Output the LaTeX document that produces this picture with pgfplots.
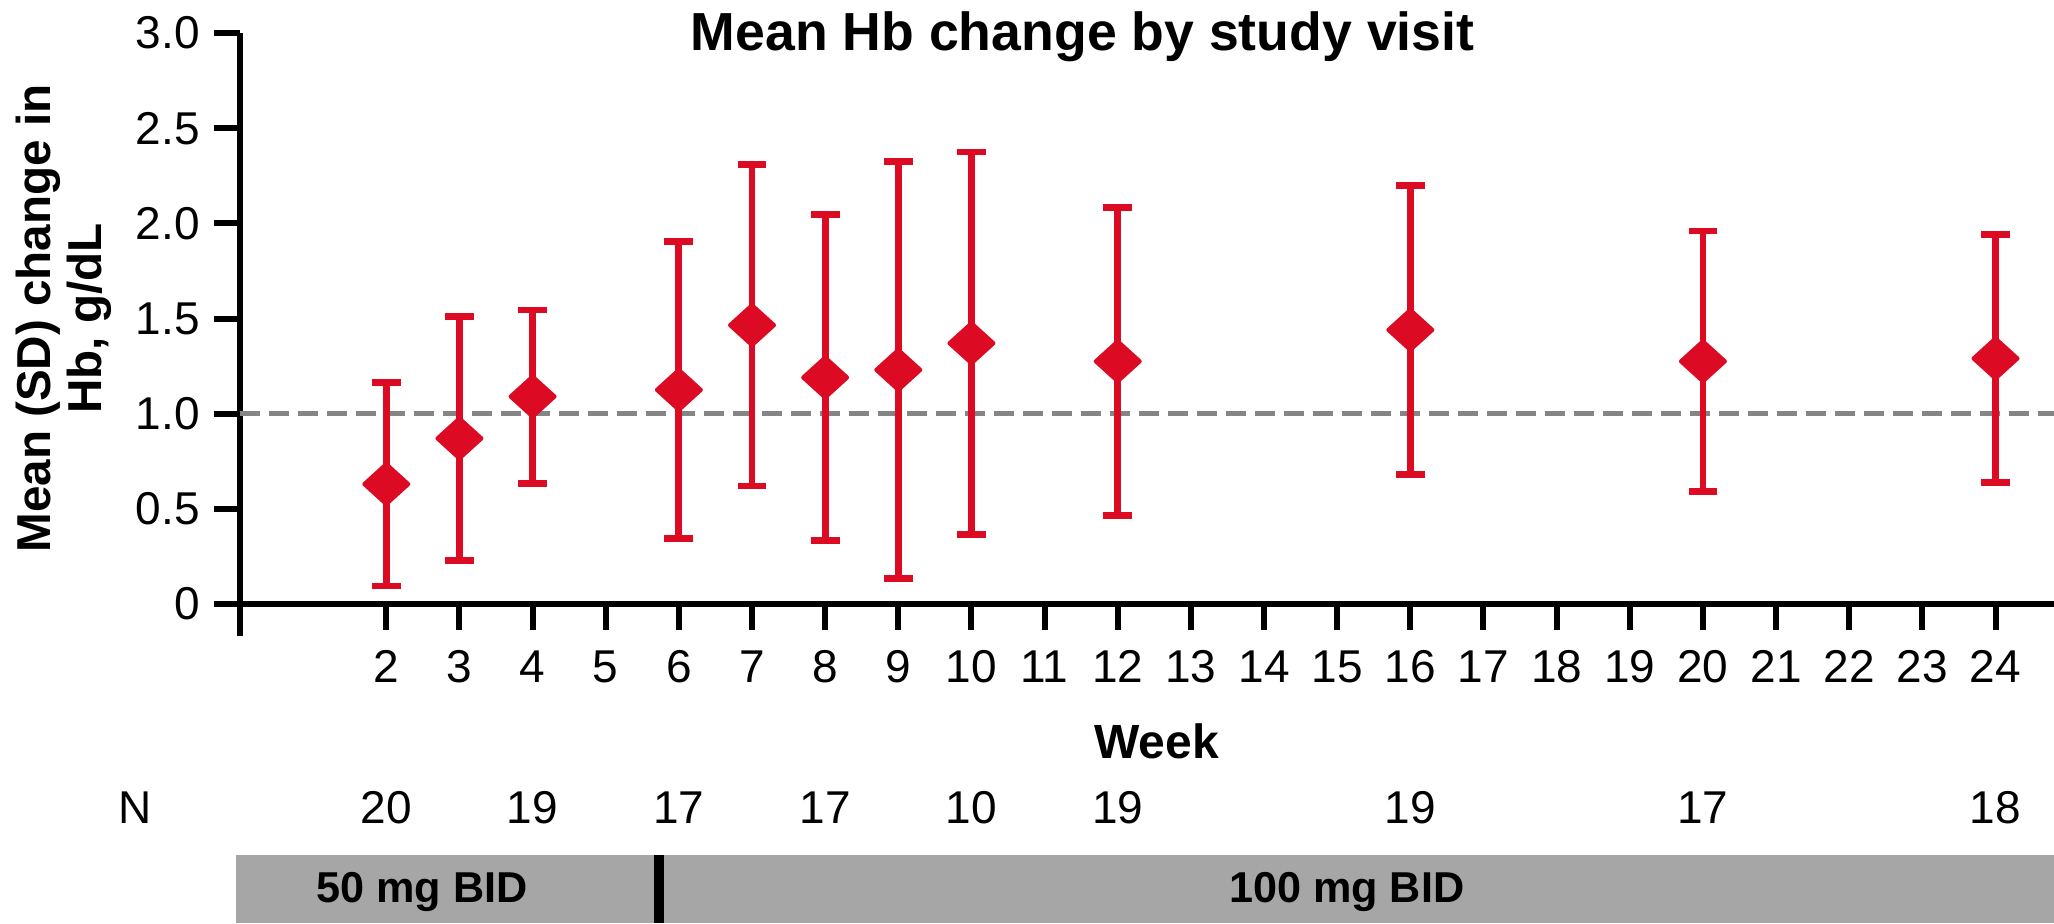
\documentclass[border=0pt]{standalone}
\usepackage{fontspec}
\setmainfont{Liberation Sans}
\usepackage{pgfplots}
\pgfplotsset{compat=1.18}
\usepackage{pgfplotstable}

\definecolor{hbred}{RGB}{220,10,35}
\definecolor{refgray}{RGB}{133,133,133}
\definecolor{bandgray}{RGB}{166,166,166}

% flat diamond marker with softened corners
\pgfdeclareplotmark{hbdiamond}{%
  \pgfsetroundjoin
  \pgfsetlinewidth{1pt}%
  \pgfpathmoveto{\pgfqpoint{0pt}{5pt}}%
  \pgfpathlineto{\pgfqpoint{5.5pt}{0pt}}%
  \pgfpathlineto{\pgfqpoint{0pt}{-5pt}}%
  \pgfpathlineto{\pgfqpoint{-5.5pt}{0pt}}%
  \pgfpathclose
  \pgfusepathqfillstroke
}

% mean Hb change (g/dL) and SD by study week
\pgfplotstableread{
week mean  sd
2    0.63  0.535
3    0.87  0.64
4    1.09  0.455
6    1.125 0.78
7    1.465 0.845
8    1.19  0.855
9    1.23  1.095
10   1.37  1.005
12   1.275 0.81
16   1.44  0.76
20   1.275 0.685
24   1.29  0.65
}\hbdata

\newcommand{\tickfont}{\fontsize{11.5}{13.5}\selectfont}
\newcommand{\nlabel}[2]{\node[font=\tickfont, anchor=center]
      at ([yshift=-51pt]axis cs:#1,0) {#2};}

\begin{document}
\begin{tikzpicture}
\begin{axis}[
  name=ax,
  scale only axis,
  width=453.5pt, height=142.75pt,
  xmin=0, xmax=24.8, ymin=0, ymax=3,
  clip=false,
  axis lines=left,
  axis line style={-, line width=1.6pt, black},
  tick align=outside,
  major tick length=6.5pt,
  tick style={line width=1.5pt, black},
  xtick={2,3,...,24},
  ytick={0,0.5,1,1.5,2,2.5,3},
  yticklabels={0,0.5,1.0,1.5,2.0,2.5,3.0},
  extra x ticks={0},
  extra x tick labels={},
  extra x tick style={major tick length=8pt, tick style={line width=1.6pt}},
  /pgf/number format/assume math mode=true,
  ticklabel style={font=\tickfont},
  xticklabel style={yshift=-1.6pt},
]
  % reference level
  \addplot[refgray, line width=1.1pt, dash pattern=on 5pt off 2.25pt, forget plot]
    coordinates {(0,1) (24.8,1)};

  \addplot[hbred, only marks, mark=hbdiamond,
    mark options={fill=hbred, draw=hbred},
    error bars/.cd, y dir=both, y explicit,
    error bar style={line width=1.7pt, hbred},
    error mark options={rotate=90, mark size=3.6pt, line width=1.7pt, hbred}]
    table[x=week, y=mean, y error=sd] {\hbdata};

  % title
  \node[font=\bfseries\fontsize{13.4}{15}\selectfont, anchor=center]
    at (axis cs:11.52,2.98) {Mean Hb change by study visit};

  % x axis title
  \node[font=\bfseries\fontsize{12}{14}\selectfont, anchor=center]
    at ([yshift=-34.25pt]axis cs:12.53,0) {Week};

  % number of patients
  \node[font=\tickfont, anchor=center]
    at ([yshift=-51pt]axis cs:-1.435,0) {N};
  \nlabel{2}{20}
  \nlabel{4}{19}
  \nlabel{6}{17}
  \nlabel{8}{17}
  \nlabel{10}{10}
  \nlabel{12}{19}
  \nlabel{16}{19}
  \nlabel{20}{17}
  \nlabel{24}{18}

  % dosing band
  \fill[bandgray] ([xshift=-1pt,yshift=-62.75pt]axis cs:0,0)
    rectangle ([yshift=-79.75pt]axis cs:24.8,0);
  \fill[black] ([xshift=-1.25pt,yshift=-62.75pt]axis cs:5.73,0)
    rectangle ([xshift=1.25pt,yshift=-79.75pt]axis cs:5.73,0);
  \node[font=\bfseries\fontsize{10.8}{13}\selectfont, anchor=center]
    at ([yshift=-72pt]axis cs:2.49,0) {50 mg BID};
  \node[font=\bfseries\fontsize{10.8}{13}\selectfont, anchor=center]
    at ([yshift=-72pt]axis cs:15.13,0) {100 mg BID};
\end{axis}

% y axis title
\node[rotate=90, align=center, font=\bfseries\fontsize{11.9}{12.6}\selectfont,
  anchor=center] at ([xshift=-44pt]ax.west) {Mean (SD) change in\\Hb, g/dL};

\pgfresetboundingbox
\path ([xshift=-60pt,yshift=-79.75pt]ax.south west)
  rectangle ([yshift=8.25pt]ax.north east);
\end{tikzpicture}
\end{document}
